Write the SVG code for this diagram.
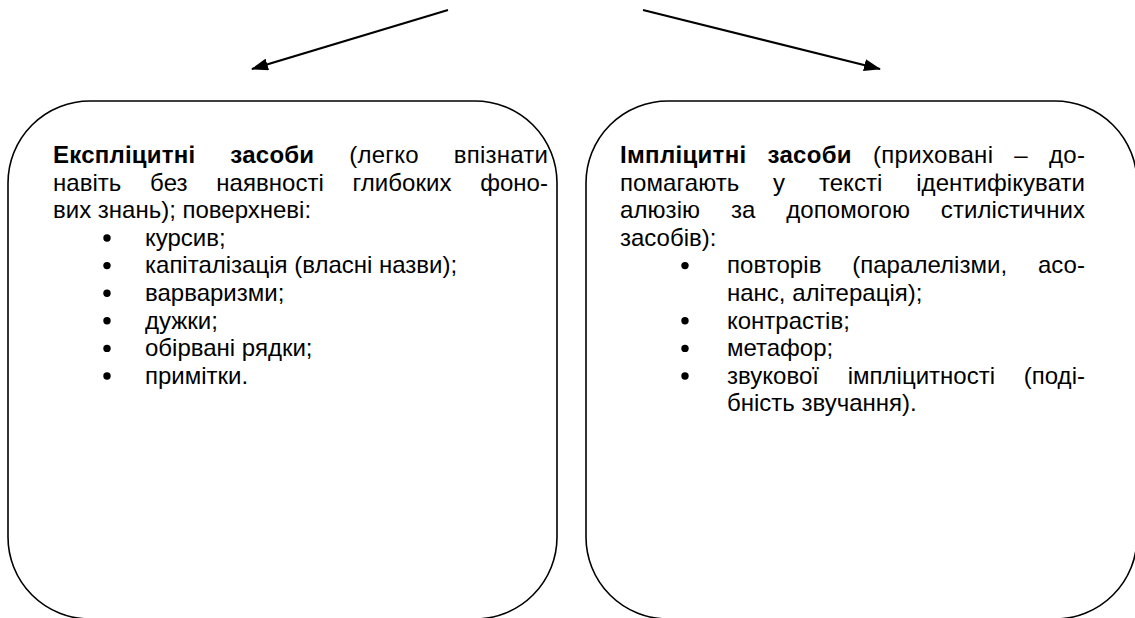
<svg xmlns="http://www.w3.org/2000/svg" width="1135" height="618" viewBox="0 0 1135 618">
<style>
.box{fill:#fff;stroke:#000;stroke-width:1.6}
.t{font-family:"Liberation Sans",Arial,sans-serif;font-size:24px;fill:#000}
.b{font-weight:bold}
.dot{fill:#000}
.conn{stroke:#000;stroke-width:2;fill:none}
</style>
<defs>
<marker id="ah" markerWidth="17" markerHeight="12" refX="16" refY="6" orient="auto" markerUnits="userSpaceOnUse" viewBox="0 0 17 12">
<path d="M0,0 L17,6 L0,12 Z" fill="#000"/>
</marker>
</defs>
<g id="connectors">
<line class="conn" x1="448" y1="10" x2="252" y2="69" marker-end="url(#ah)"/>
<line class="conn" x1="643" y1="10" x2="880" y2="69" marker-end="url(#ah)"/>
</g>
<g id="explicit">
<rect class="box" x="8" y="101" width="549" height="518" rx="82" ry="82"/>
<text class="t" x="53" y="163" word-spacing="28" textLength="495" lengthAdjust="spacing"><tspan class="b">Експліцитні засоби</tspan> (легко впізнати</text>
<text class="t" x="53" y="190.6" word-spacing="22" textLength="495" lengthAdjust="spacing">навіть без наявності глибоких фоно-</text>
<text class="t" x="53" y="218.2">вих знань); поверхневі:</text>
<circle class="dot" cx="107" cy="238" r="3.7"/><text class="t" x="145" y="245.8">курсив;</text>
<circle class="dot" cx="107" cy="265.6" r="3.7"/><text class="t" x="145" y="273.4">капіталізація (власні назви);</text>
<circle class="dot" cx="107" cy="293.2" r="3.7"/><text class="t" x="145" y="301">варваризми;</text>
<circle class="dot" cx="107" cy="320.8" r="3.7"/><text class="t" x="145" y="328.6">дужки;</text>
<circle class="dot" cx="107" cy="348.4" r="3.7"/><text class="t" x="145" y="356.2">обірвані рядки;</text>
<circle class="dot" cx="107" cy="376" r="3.7"/><text class="t" x="145" y="383.8">примітки.</text>
</g>
<g id="implicit">
<rect class="box" x="586" y="101" width="551" height="518" rx="82" ry="82"/>
<text class="t" x="620" y="163" word-spacing="14" textLength="465" lengthAdjust="spacing"><tspan class="b">Імпліцитні засоби</tspan> (приховані – до-</text>
<text class="t" x="620" y="190.6" word-spacing="27" textLength="465" lengthAdjust="spacing">помагають у тексті ідентифікувати</text>
<text class="t" x="620" y="218.2" word-spacing="24" textLength="465" lengthAdjust="spacing">алюзію за допомогою стилістичних</text>
<text class="t" x="620" y="245.8">засобів):</text>
<circle class="dot" cx="685" cy="265.6" r="3.7"/>
<text class="t" x="727" y="273.4" word-spacing="24" textLength="358" lengthAdjust="spacing">повторів (паралелізми, асо-</text>
<text class="t" x="727" y="301">нанс, алітерація);</text>
<circle class="dot" cx="685" cy="320.8" r="3.7"/><text class="t" x="727" y="328.6">контрастів;</text>
<circle class="dot" cx="685" cy="348.4" r="3.7"/><text class="t" x="727" y="356.2">метафор;</text>
<circle class="dot" cx="685" cy="376" r="3.7"/>
<text class="t" x="727" y="383.8" word-spacing="22" textLength="358" lengthAdjust="spacing">звукової імпліцитності (поді-</text>
<text class="t" x="727" y="411.4">бність звучання).</text>
</g>
</svg>
